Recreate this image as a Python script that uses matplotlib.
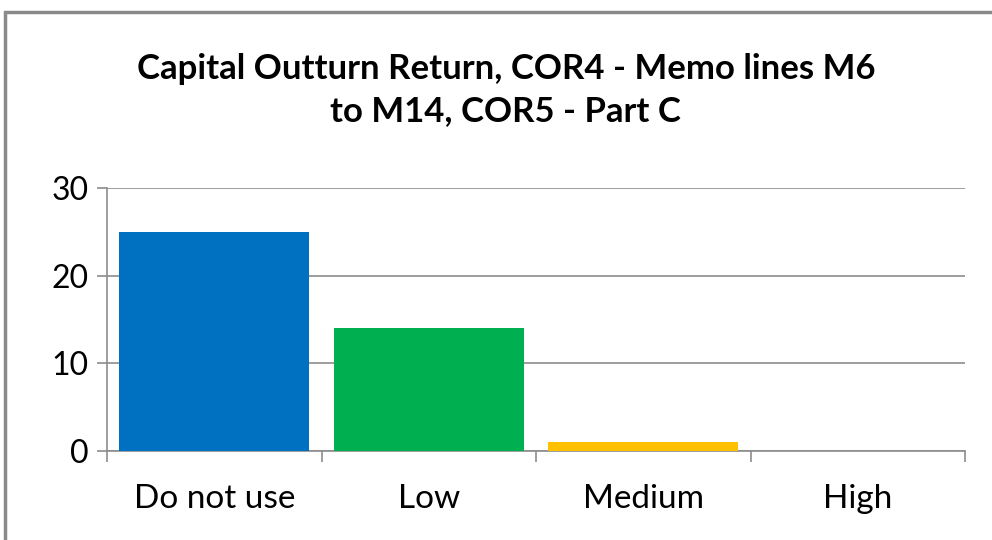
import matplotlib.pyplot as plt
from matplotlib.patches import Rectangle
import numpy as np

# chart data
categories = ["Do not use", "Low", "Medium", "High"]
counts = [25, 14, 1, 0]
bar_colors = ["#0070C0", "#00B050", "#FFC000", "#7F7F7F"]
y_ticks = [0, 10, 20, 30]
title = "Capital Outturn Return, COR4 - Memo lines M6\nto M14, COR5 - Part C"

grey = "#8C8C8C"

plt.rcParams["font.family"] = ["Lato", "DejaVu Sans"]

fig = plt.figure(figsize=(9.92, 5.4), dpi=100)
fig.patches.append(Rectangle((5 / 992, -0.1), 1.2, 1.1 - 12 / 540,
                             transform=fig.transFigure, fill=False,
                             edgecolor="#8A8A8A", linewidth=2.5))

ax = fig.add_axes([0.108, 0.165, 0.865, 0.487])
x = np.arange(len(categories))
ax.bar(x, counts, width=0.886, color=bar_colors, zorder=3)

ax.set_xlim(-0.5, len(categories) - 0.5)
ax.set_ylim(0, 30)
ax.set_yticks(y_ticks)
ax.yaxis.grid(True, color=grey, linewidth=1.2, zorder=0)

ax.set_xticks(x)
ax.set_xticklabels(categories)
ax.set_xticks(np.arange(len(categories) + 1) - 0.5, minor=True)
ax.tick_params(axis="x", which="major", length=0, pad=24, labelsize=24)
ax.tick_params(axis="x", which="minor", length=8, color=grey, width=1.2)
ax.tick_params(axis="y", length=7.2, color=grey, width=1.2, pad=6, labelsize=23)

for side in ["top", "right"]:
    ax.spines[side].set_visible(False)
for side in ["left", "bottom"]:
    ax.spines[side].set_color(grey)
    ax.spines[side].set_linewidth(1.2)

fig.text(0.51, 0.833, title, ha="center", va="center", fontsize=25,
         fontweight="bold", linespacing=1.4)

fig.savefig("out.png", dpi=100)
